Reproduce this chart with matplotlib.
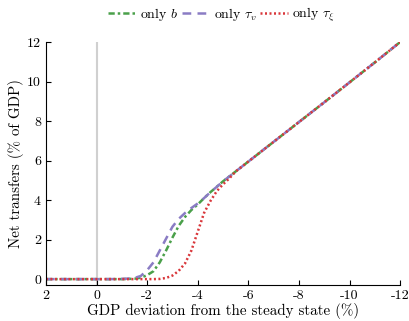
import matplotlib
matplotlib.use("Agg")
import matplotlib.pyplot as plt

plt.rcParams["font.family"] = "serif"
plt.rcParams["font.serif"] = ["cmr10", "DejaVu Serif"]
plt.rcParams["mathtext.fontset"] = "cm"
plt.rcParams["axes.unicode_minus"] = False

# GDP deviation grid (%)
gdp_dev = [2, 1, 0, -0.5, -1, -1.25, -1.5, -1.75, -2, -2.25, -2.5, -2.75, -3,
           -3.25, -3.5, -3.75, -4, -4.25, -4.5, -4.75, -5, -5.25, -5.5, -6,
           -7, -8, -9, -10, -11, -12]

only_b = [0, 0, 0, 0, 0, 0.01, 0.02, 0.07, 0.2, 0.4, 0.85, 1.45, 2.1,
          2.7, 3.15, 3.5, 3.78, 4.1, 4.4, 4.67, 4.95, 5.2, 5.45, 5.95,
          6.95, 7.95, 8.95, 9.96, 10.97, 12.0]

only_tau_v = [0, 0, 0, 0, 0.01, 0.03, 0.06, 0.16, 0.45, 0.85, 1.45, 2.05, 2.65,
              3.05, 3.35, 3.6, 3.83, 4.1, 4.4, 4.67, 4.95, 5.2, 5.45, 5.95,
              6.95, 7.95, 8.95, 9.96, 10.97, 12.0]

only_tau_xi = [0, 0, 0, 0, 0, 0, 0, 0, 0, 0, 0.01, 0.06, 0.18,
               0.42, 0.8, 1.45, 2.4, 3.35, 3.95, 4.45, 4.8, 5.1, 5.45, 5.95,
               6.95, 7.95, 8.95, 9.96, 10.97, 12.0]

fig = plt.figure(figsize=(4.1, 3.21), dpi=100)
ax = fig.add_axes([0.112, 0.112, 0.864, 0.757])

ax.axvline(0, color="#d0d0d0", linewidth=1.5, zorder=1)
ax.plot(gdp_dev, only_b, color="#4aa04a", linestyle=(0, (2.5, 1.2, 1, 1.2)),
        linewidth=1.8, label=r"only $b$")
ax.plot(gdp_dev, only_tau_v, color="#8a7cc4", linestyle=(0, (3.5, 2.5)),
        linewidth=1.8, label=r"only $\tau_v$")
ax.plot(gdp_dev, only_tau_xi, color="#d9363a", linestyle=(0, (0.8, 1.0)),
        linewidth=1.8, label=r"only $\tau_\xi$")

ax.set_xlim(2, -12)
ax.set_ylim(-0.3, 12)
ax.set_xticks([2, 0, -2, -4, -6, -8, -10, -12])
ax.set_yticks([0, 2, 4, 6, 8, 10, 12])
ax.tick_params(direction="in", labelsize=10)
ax.spines["top"].set_visible(False)
ax.spines["right"].set_visible(False)
ax.set_xlabel("GDP deviation from the steady state (%)", fontsize=10.8,
              labelpad=1)
ax.set_ylabel("Net transfers (% of GDP)", fontsize=10.8, labelpad=2)

fig.legend(loc="upper center", bbox_to_anchor=(0.54, 1.02), ncol=3,
           frameon=False, fontsize=10, handlelength=2.0, handletextpad=0.3,
           columnspacing=0.25)

fig.savefig("out.png", dpi=100)
